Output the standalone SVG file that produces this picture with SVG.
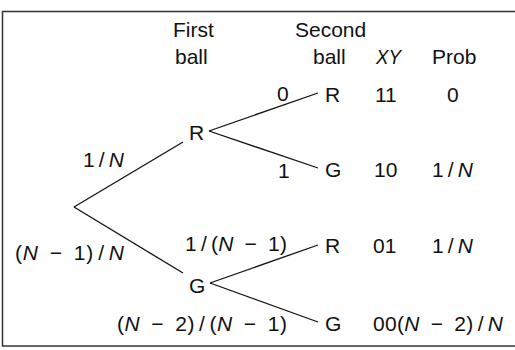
<svg xmlns="http://www.w3.org/2000/svg" width="515" height="350" viewBox="0 0 515 350">
<style>
  text { font-family: "Liberation Sans", Arial, sans-serif; font-size: 21px; fill: #111; }
  .it { font-style: italic; }
  .edge { stroke: #111; stroke-width: 1.3; fill: none; }
  .frame { stroke: #333; stroke-width: 1.5; fill: #fff; }
</style>
<rect class="frame" x="2.5" y="11.5" width="530" height="334.5"/>
<g id="headers">
  <text x="173" y="37">First</text>
  <text x="175" y="64">ball</text>
  <text x="295" y="37">Second</text>
  <text x="313" y="64">ball</text>
  <text x="376" y="64" class="it" textLength="25" lengthAdjust="spacingAndGlyphs">XY</text>
  <text x="432" y="64">Prob</text>
</g>
<g id="connectors">
  <line class="edge" x1="74" y1="207" x2="183" y2="142"/>
  <line class="edge" x1="74" y1="207" x2="183" y2="273"/>
  <line class="edge" x1="209" y1="131" x2="318" y2="93"/>
  <line class="edge" x1="209" y1="131" x2="318" y2="168"/>
  <line class="edge" x1="210" y1="283" x2="318" y2="245"/>
  <line class="edge" x1="210" y1="283" x2="318" y2="322"/>
  <text x="83" y="167" textLength="41" lengthAdjust="spacing">1<tspan dx="4">/</tspan><tspan dx="4" class="it">N</tspan></text>
  <text x="15" y="260" textLength="109" lengthAdjust="spacing">(<tspan class="it">N</tspan><tspan dx="11">−</tspan><tspan dx="11">1)</tspan><tspan dx="4">/</tspan><tspan dx="4" class="it">N</tspan></text>
  <text x="277" y="101">0</text>
  <text x="278" y="178">1</text>
  <text x="185" y="251" textLength="102" lengthAdjust="spacing">1<tspan dx="4">/</tspan><tspan dx="4">(</tspan><tspan class="it">N</tspan><tspan dx="11">−</tspan><tspan dx="11">1)</tspan></text>
  <text x="117" y="331" textLength="170" lengthAdjust="spacing">(<tspan class="it">N</tspan><tspan dx="11">−</tspan><tspan dx="11">2)</tspan><tspan dx="4">/</tspan><tspan dx="4">(</tspan><tspan class="it">N</tspan><tspan dx="11">−</tspan><tspan dx="11">1)</tspan></text>
</g>
<g id="root"></g>
<g id="first-R"><text x="189" y="140">R</text></g>
<g id="first-G"><text x="189" y="293">G</text></g>
<g id="RR">
  <text x="325" y="102">R</text>
  <text x="375" y="102">11</text>
  <text x="447" y="102">0</text>
</g>
<g id="RG">
  <text x="325" y="177">G</text>
  <text x="374" y="177">10</text>
  <text x="432" y="177" textLength="41" lengthAdjust="spacing">1<tspan dx="4">/</tspan><tspan dx="4" class="it">N</tspan></text>
</g>
<g id="GR">
  <text x="325" y="253">R</text>
  <text x="373" y="253">01</text>
  <text x="432" y="253" textLength="41" lengthAdjust="spacing">1<tspan dx="4">/</tspan><tspan dx="4" class="it">N</tspan></text>
</g>
<g id="GG">
  <text x="325" y="331">G</text>
  <text x="373" y="331" textLength="130" lengthAdjust="spacing">00(<tspan class="it">N</tspan><tspan dx="11">−</tspan><tspan dx="11">2)</tspan><tspan dx="4">/</tspan><tspan dx="4" class="it">N</tspan></text>
</g>
</svg>
